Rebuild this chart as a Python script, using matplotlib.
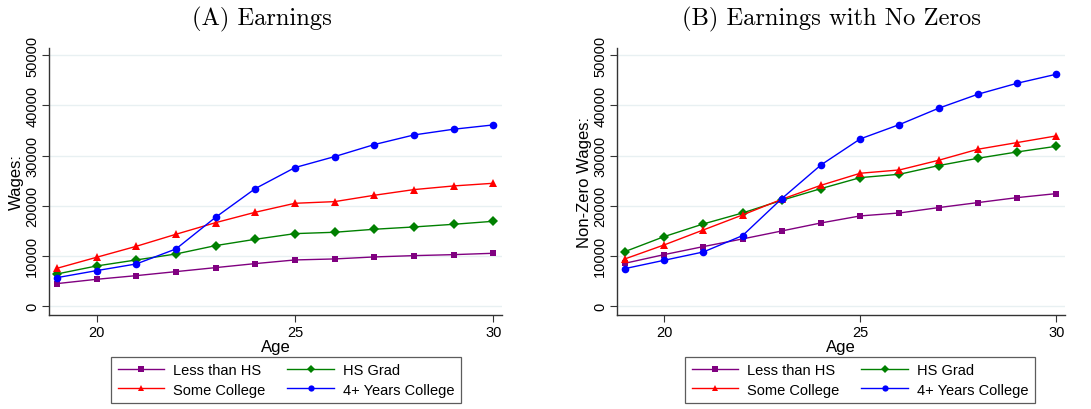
import numpy as np
import matplotlib.pyplot as plt
from matplotlib.lines import Line2D

# Wages by age and education
ages = [19, 20, 21, 22, 23, 24, 25, 26, 27, 28, 29, 30]
groups = ['Less than HS', 'HS Grad', 'Some College', '4+ Years College']

earn_lths = [4460, 5320, 6050, 6850, 7650, 8450, 9180, 9380, 9780, 10040, 10240, 10510]
earn_hsg = [6380, 7980, 9180, 10370, 12040, 13300, 14430, 14700, 15300, 15760, 16290, 16890]
earn_sc = [7510, 9710, 11900, 14300, 16620, 18690, 20480, 20810, 22080, 23210, 23940, 24470]
earn_col = [5650, 7050, 8380, 11370, 17690, 23410, 27600, 29790, 32190, 34110, 35250, 36110]

nz_lths = [8510, 10240, 11840, 13370, 14960, 16560, 17960, 18550, 19620, 20620, 21610, 22410]
nz_hsg = [10840, 13830, 16360, 18550, 21080, 23410, 25600, 26270, 28000, 29460, 30720, 31850]
nz_sc = [9380, 12170, 15160, 18150, 21280, 24070, 26470, 27130, 29060, 31260, 32590, 33920]
nz_col = [7450, 9110, 10770, 14030, 21410, 28130, 33320, 36180, 39440, 42230, 44420, 46220]

colors = ['#800080', '#008000', '#ff0000', '#0000ff']
markers = ['s', 'D', '^', 'o']
msizes = [5, 5, 6, 5.5]

plt.rcParams['font.family'] = ['Liberation Sans', 'DejaVu Sans']

W, H = 1091, 410
fig = plt.figure(figsize=(W / 100, H / 100), dpi=100)


def px_axes(x0, y0, x1, y1):
    return fig.add_axes([x0 / W, 1 - y1 / H, (x1 - x0) / W, (y1 - y0) / H])


def panel(ax, series, ylabel):
    ax.set_xlim(18.8, 30.22)
    ax.set_ylim(-1800, 51450)
    ax.set_yticks([0, 10000, 20000, 30000, 40000, 50000])
    ax.set_xticks([20, 25, 30])
    ax.grid(axis='y', color='#e8f0f2', linewidth=1.0)
    ax.set_axisbelow(True)
    for k, vals in enumerate(series):
        ax.plot(ages, vals, color=colors[k], marker=markers[k], markersize=msizes[k],
                linewidth=1.0, markeredgewidth=0)
    for s in ['top', 'right']:
        ax.spines[s].set_visible(False)
    for s in ['left', 'bottom']:
        ax.spines[s].set_color('#333333')
        ax.spines[s].set_linewidth(1.0)
    ax.tick_params(axis='both', direction='out', length=5, width=0.8, color='#333333',
                   labelsize=10.5, pad=2)
    for lab in ax.get_yticklabels():
        lab.set_rotation(90)
        lab.set_va('center')
    ax.set_xlabel('Age', fontsize=12, labelpad=0)
    ax.set_ylabel(ylabel, fontsize=12, labelpad=1)


ax1 = px_axes(49, 49, 502, 316)
panel(ax1, [earn_lths, earn_hsg, earn_sc, earn_col], 'Wages:')
ax2 = px_axes(617, 49, 1065, 316)
panel(ax2, [nz_lths, nz_hsg, nz_sc, nz_col], 'Non-Zero Wages:')

fig.text(262 / W, 1 - 19 / H, '(A) Earnings', fontsize=17.7, family='cmr10',
         ha='center', va='center')
fig.text(832 / W, 1 - 19 / H, '(B) Earnings with No Zeros', fontsize=17.7, family='cmr10',
         ha='center', va='center')

handles = [Line2D([], [], color=colors[k], marker=markers[k], markersize=msizes[k] - 1,
                  linewidth=1.0, markeredgewidth=0) for k in range(4)]
order = [0, 2, 1, 3]
for cx in [286, 860]:
    leg = fig.legend([handles[i] for i in order], [groups[i] for i in order], ncol=2,
                     loc='center', bbox_to_anchor=(cx / W, 1 - 381 / H), fontsize=10.5,
                     frameon=True, fancybox=False, edgecolor='#333333', handlelength=3.2,
                     columnspacing=1.5, borderpad=0.45, labelspacing=0.35, handletextpad=0.6)
    leg.get_frame().set_linewidth(0.9)

fig.savefig('out.png', dpi=100, facecolor='white')
